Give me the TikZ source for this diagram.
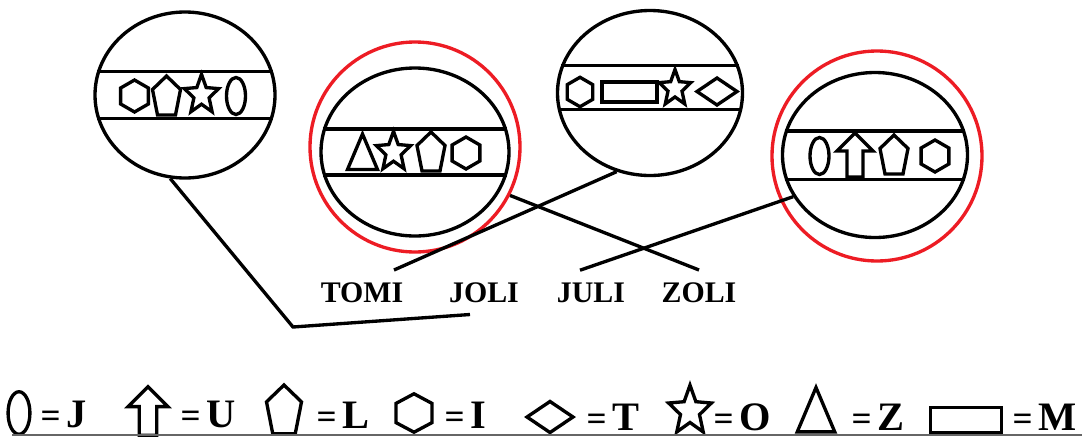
\documentclass[tikz,border=0pt]{standalone}
\usepackage{fontspec}
\setmainfont{Liberation Serif}
\usetikzlibrary{shapes.geometric,calc}
\definecolor{ring}{RGB}{237,28,36}
\newcommand{\eqs}{{\fontsize{20}{20}\selectfont=}\kern0.12cm}
\tikzset{
    pics/oval/.style={code={\draw (0,0) ellipse (0.19 and 0.37);}},
    pics/uarrow/.style={code={\draw (0,0.44) -- (0.36,0.08) -- (0.16,0.08) -- (0.16,-0.44) -- (-0.16,-0.44) -- (-0.16,0.08) -- (-0.36,0.08) -- cycle;}},
    pics/penta/.style={code={\draw (0,0.4) -- (0.28,0.13) -- (0.18,-0.38) -- (-0.18,-0.38) -- (-0.28,0.13) -- cycle;}},
    pics/hexa/.style={code={\draw (90:0.32) -- (150:0.32) -- (210:0.32) -- (270:0.32) -- (330:0.32) -- (30:0.32) -- cycle;}},
    pics/rhomb/.style={code={\draw (0.4,0) -- (0,0.27) -- (-0.4,0) -- (0,-0.27) -- cycle;}},
    pics/starr/.style={code={\draw[yscale=1.15] (90:0.36) -- (126:0.16) -- (162:0.36) -- (198:0.16) -- (234:0.36) -- (270:0.16) -- (306:0.36) -- (342:0.16) -- (18:0.36) -- (54:0.16) -- cycle;}},
    pics/tri/.style={code={\draw (0,0.36) -- (0.3,-0.35) -- (-0.3,-0.35) -- cycle;}},
    pics/bar/.style={code={\draw (-0.55,-0.2) rectangle (0.55,0.2);}}
}
\begin{document}
\begin{tikzpicture}[
    line width=1.9pt,
    disc/.style={draw, ellipse, minimum width=3.7cm, minimum height=3.3cm, inner sep=0pt},
    halo/.style={draw=ring, circle, minimum size=4.2cm, inner sep=0pt},
    kid/.style={font=\fontsize{17}{20}\selectfont\bfseries, inner sep=6pt, anchor=base},
    key/.style={font=\fontsize{23}{26}\selectfont\bfseries, inner sep=0pt, anchor=base west}
]
\useasboundingbox (0,0) rectangle (21.7,-8.74);

% discs
\node[disc, minimum width=3.6cm, minimum height=3.32cm] (c1) at (3.70,-1.90) {};
\node[halo] (r2) at (8.30,-2.94) {};
\node[disc, minimum width=3.76cm, minimum height=3.36cm] (c2) at (8.30,-3.04) {};
\node[disc] (c3) at (13.0,-1.86) {};
\node[halo] (r4) at (17.54,-3.12) {};
\node[disc] (c4) at (17.5,-3.1) {};

\draw (c1.165) -- (c1.15) (c1.195) -- (c1.-15);
\draw (c2.166) -- (c2.14) (c2.194) -- (c2.-14);
\draw (c3.163) -- (c3.17) (c3.190) -- (c3.-10);
\draw (c4.165) -- (c4.15) (c4.195) -- (c4.-15);

\pic at (2.69,-1.92) {hexa};
\pic at (3.33,-1.92) {penta};
\pic at (4.03,-1.90) {starr};
\pic at (4.72,-1.92) {oval};

\pic at (7.25,-3.04) {tri};
\pic at (7.87,-3.04) {starr};
\pic at (8.62,-3.04) {penta};
\pic at (9.32,-3.06) {hexa};

\pic[scale=0.92] at (11.6,-1.84) {hexa};
\pic at (12.59,-1.84) {bar};
\pic[scale=0.92] at (13.5,-1.77) {starr};
\pic at (14.34,-1.83) {rhomb};

\pic at (16.39,-3.12) {oval};
\pic at (17.1,-3.1) {uarrow};
\pic at (17.88,-3.1) {penta};
\pic at (18.7,-3.12) {hexa};

% names
\node[kid] (tomi) at (7.24,-6.04) {TOMI};
\node[kid] (joli) at (9.68,-6.04) {JOLI};
\node[kid] (juli) at (11.82,-6.04) {JULI};
\node[kid] (zoli) at (13.98,-6.04) {ZOLI};

\coordinate (bend) at (5.86,-6.54);
\draw (c1.260) -- (bend) -- ([xshift=-0.28cm]joli.south);
\draw (c3.247) -- ([xshift=0.64cm]tomi.north);
\draw (r2.-27) -- (zoli.north);
\draw (c4.207) -- ([xshift=-0.22cm]juli.north);

% legend
\pic[scale=1.15] at (0.38,-8.26) {oval};
\node[key] (kj) at (0.78,-8.54) {\eqs J};
\pic[scale=1.1] at (2.96,-8.22) {uarrow};
\node[key] (ku) at (3.58,-8.55) {\eqs U};
\pic[scale=1.25] at (5.68,-8.20) {penta};
\node[key] (kl) at (6.30,-8.56) {\eqs L};
\pic[xscale=1.3, yscale=1.2] at (8.28,-8.26) {hexa};
\node[key] (ki) at (8.86,-8.57) {\eqs I};
\pic[scale=1.15] at (11.0,-8.34) {rhomb};
\node[key] (kt) at (11.70,-8.60) {\eqs T};
\pic[scale=1.25] at (13.8,-8.22) {starr};
\node[key] (ko) at (14.24,-8.60) {\eqs O};
\pic[scale=1.25] at (16.32,-8.2) {tri};
\node[key] (kz) at (17.00,-8.60) {\eqs Z};
\pic[xscale=1.3, yscale=1.25] at (19.32,-8.4) {bar};
\node[key] (km) at (20.22,-8.60) {\eqs M};
\draw[line width=1pt, black!60] (0.24,-8.70) -- (21.64,-8.70);
\end{tikzpicture}
\end{document}
